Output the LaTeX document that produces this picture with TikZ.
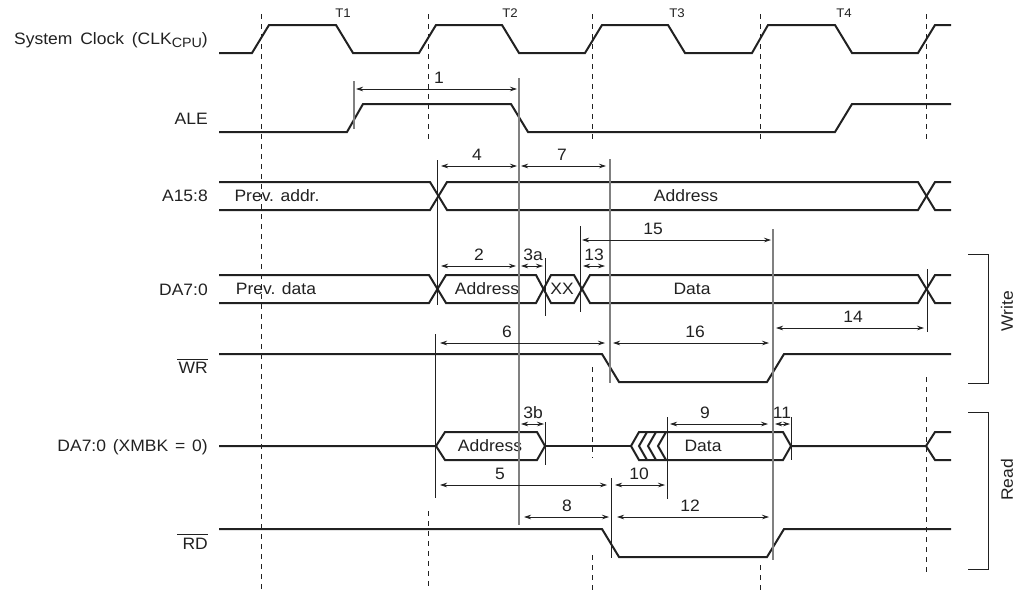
\documentclass[tikz,border=0pt]{standalone}
\usepackage{fontspec}
\setmainfont[FakeStretch=1.06]{Liberation Sans}
\usetikzlibrary{arrows.meta}
\definecolor{inkblack}{gray}{0.13}
\definecolor{extgray}{gray}{0.5}
\tikzset{
    signal/.style={line width=2pt, inkblack, line join=miter},
    tick/.style={dashed, dash pattern=on 5pt off 5pt, line width=0.9pt, inkblack},
    ext/.style={line width=0.9pt, inkblack},
    extg/.style={line width=1.4pt, extgray},
    dim/.style={<->, >={Stealth[length=7pt,width=4.5pt]}, line width=0.7pt, inkblack},
    lab/.style={font=\fontsize{16.5}{18}\selectfont, text=inkblack, inner sep=0pt},
    sig/.style={lab, anchor=base east},
}
\begin{document}
\begin{tikzpicture}[x=1pt, y=-1pt]
    \useasboundingbox (0,0) rectangle (1024,592);

    % Svisle carkovane
    \draw[tick] (261,14) -- (261,590);
    \foreach \x in {428,592,760,926} {
        \draw[tick] (\x,14) -- (\x,143);
    }
    \draw[tick] (428,511) -- (428,590);
    \draw[tick] (592,367) -- (592,458);
    \draw[tick] (592,555) -- (592,590);
    \draw[tick] (760,565) -- (760,590);
    \draw[tick] (926,377) -- (926,575);

    % Nazvy signalu
    \node[sig] (clk) at (208,44.3) {System\hspace{3pt} Clock\hspace{3pt} (CLK\raisebox{-3pt}{\fontsize{13.5}{15}\selectfont CPU})};
    \node[sig] (ale) at (208,124.3) {ALE};
    \node[sig] (addr) at (208,201.7) {A15:8};
    \node[sig] (dataw) at (208,295) {DA7:0};
    \node[sig] (wr) at (208,373.3) {WR};
    \node[sig] (datar) at (208,451.7) {DA7:0\hspace{2pt} (XMBK\hspace{2pt} =\hspace{2pt} 0)};
    \node[sig] (rd) at (208,549) {RD};
    \draw[ext] (177,359.3) -- (208,359.3);
    \draw[ext] (177,534.3) -- (208,534.3);

    % Takty
    \foreach \x/\t in {343/T1,510/T2,677/T3,844/T4} {
        \node[lab, font=\fontsize{12.5}{14}\selectfont] (\t) at (\x,13) {\t};
    }

    % Hodiny a ALE
    \draw[signal] (219,53) -- (252,53) -- (269,25) -- (336,25) -- (353,53) -- (419,53) -- (436,25) -- (502,25) -- (519,53) -- (585,53) -- (602,25) -- (668,25) -- (685,53) -- (752,53) -- (768,25) -- (835,25) -- (852,53) -- (918,53) -- (935,25) -- (951,25);
    \draw[signal] (219,132) -- (347,132) -- (363,104) -- (511,104) -- (528,132) -- (835,132) -- (852,104) -- (951,104);

    % A15:8
    \draw[signal] (219,182) -- (430,182) -- (447,210) -- (918,210) -- (935,182) -- (951,182);
    \draw[signal] (219,210) -- (430,210) -- (447,182) -- (918,182) -- (935,210) -- (951,210);

    % DA7:0 pri zapisu
    \draw[signal] (219,275) -- (429,275) -- (446,303) -- (536,303) -- (551,275) -- (574,275) -- (590,303) -- (918,303) -- (935,275) -- (951,275);
    \draw[signal] (219,303) -- (429,303) -- (446,275) -- (536,275) -- (551,303) -- (574,303) -- (590,275) -- (918,275) -- (935,303) -- (951,303);

    % WR a RD
    \foreach \y/\z in {354/382,529/557} {
        \draw[signal] (219,\y) -- (602,\y) -- (619,\z) -- (767,\z) -- (784,\y) -- (951,\y);
    }

    % DA7:0 pri cteni
    \draw[signal] (219,446) -- (436,446) -- (445,432) -- (537,432) -- (545,446) -- (537,460) -- (445,460) -- (436,446);
    \draw[signal] (545,446) -- (631,446);
    \draw[signal] (631,446) -- (639,432) -- (783,432) -- (791,446) -- (783,460) -- (639,460) -- cycle;
    \foreach \x in {647,656,666} {
        \draw[signal] (\x,432) -- (\x-8,446) -- (\x,460);
    }
    \draw[signal] (791,446) -- (926,446) -- (935,432) -- (951,432);
    \draw[signal] (926,446) -- (935,460) -- (951,460);

    % Popisy sbernic
    \node[lab] (prevaddr) at (277,196) {Prev. addr.};
    \node[lab] (addrval) at (686,196) {Address};
    \node[lab] (prevdata) at (276,289) {Prev. data};
    \node[lab] (addrw) at (487,289) {Address};
    \node[lab] (xx) at (562,289) {XX};
    \node[lab] (dataval) at (692,289) {Data};
    \node[lab] (addrr) at (490,446) {Address};
    \node[lab] (datard) at (703,446) {Data};

    % Vynasecky
    \foreach \x/\a/\b in {354/81/129,519/78/525,610/159/383,773/229/560} {
        \draw[extg] (\x,\a) -- (\x,\b);
    }
    \foreach \x/\a/\b in {437/160/305,435.5/334/498,545.5/258/316,545.5/422/465,580/226/312,927/269/332,667/417/499,791.5/417/460,611/478/558} {
        \draw[ext] (\x,\a) -- (\x,\b);
    }

    % Casove intervaly
    \foreach \a/\b/\y/\lx/\t in {
        356/517/89/439/1, 441/517/166/477/4, 521/606/166/562/7,
        582/771/240/653/15, 441/516/266/479/2, 521/543/266/533/3a,
        583/605/266/594/13, 440/605/343/507/6, 613/769/343/695/16,
        776/924/328/853/14, 521/544/424/533/3b, 670/768/424/705/9,
        775/790/424/782/11, 440/607/485/500/5, 615/665/485/639/10,
        524/609/517/567/8, 617/769/517/690/12} {
        \draw[dim] (\a,\y) -- (\b,\y);
        \node[lab] (t\t) at (\lx,\y-11) {\t};
    }

    % Zavorky
    \draw[ext] (968,254) -- (988.5,254) -- (988.5,383) -- (968,383);
    \draw[ext] (968,412) -- (988.5,412) -- (988.5,569) -- (968,569);
    \node[lab, rotate=90] (write) at (1007,311) {Write};
    \node[lab, rotate=90] (read) at (1007,480) {Read};
\end{tikzpicture}
\end{document}
